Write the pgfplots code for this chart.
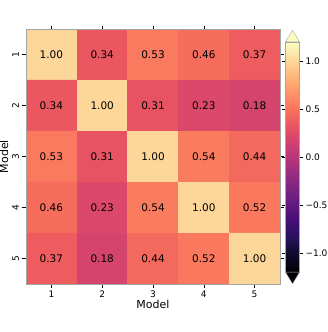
\documentclass[border=0pt]{standalone}
\usepackage{fontspec}
\setmainfont{DejaVu Sans}
\usepackage{pgfplots}
\pgfplotsset{compat=1.18}
\usetikzlibrary{calc}
\pgfplotsset{colormap={magma}{
rgb255=(0,0,4) rgb255=(9,7,32) rgb255=(20,14,54) rgb255=(40,17,93) rgb255=(59,15,112) rgb255=(80,18,123)
rgb255=(100,26,128) rgb255=(120,34,129) rgb255=(140,41,129) rgb255=(161,48,126) rgb255=(183,55,121)
rgb255=(203,63,115) rgb255=(222,73,104) rgb255=(238,90,96) rgb255=(247,112,92) rgb255=(252,135,97)
rgb255=(254,159,109) rgb255=(254,182,122) rgb255=(254,206,145) rgb255=(252,230,170) rgb255=(252,253,191)}}
\definecolor{magtop}{RGB}{252,253,191}
\definecolor{magbot}{RGB}{0,0,4}
\begin{document}
\begin{tikzpicture}
\path[use as bounding box] (0,0) rectangle (327pt,332pt);
\begin{axis}[
  at={(26pt,48pt)}, anchor=south west,
  scale only axis, width=254pt, height=255pt,
  xmin=0.5, xmax=5.5, ymin=0.5, ymax=5.5,
  y dir=reverse,
  xtick={1,2,3,4,5}, ytick={1,2,3,4,5},
  xticklabels={1,2,3,4,5}, yticklabels={1,2,3,4,5},
  yticklabel style={rotate=90, font=\fontsize{9}{10}\selectfont},
  xticklabel style={font=\fontsize{9}{10}\selectfont},
  tick align=outside, major tick length=3.5pt,
  tick style={black, line width=0.6pt},
  axis line style={gray!70},
  axis on top,
  xlabel={Model}, ylabel={Model},
  label style={font=\fontsize{11}{13}\selectfont},
  xlabel style={yshift=5pt},
  ylabel style={yshift=-3pt},
  colormap name=magma,
  point meta min=-1.2, point meta max=1.2,
  colorbar,
  colorbar style={
    anchor=south west,
    at={($(parent axis.south east)+(5pt,11.8pt)$)},
    xshift=-8pt,
    width=14pt, height=230.4pt,
    ytick={-1,-0.5,0,0.5,1},
    yticklabels={−1.0,−0.5,0.0,0.5,1.0},
    yticklabel style={font=\fontsize{9}{10}\selectfont, xshift=-1pt},
    tick align=outside, major tick length=3.5pt,
    tick style={black, line width=0.6pt},
    axis line style={gray!70},
    extra description/.code={
      \filldraw[fill=magtop, draw=gray!70] (0,1) -- (0.5,1.05) -- (1,1) -- cycle;
      \filldraw[fill=magbot, draw=gray!70] (0,0) -- (0.5,-0.05) -- (1,0) -- cycle;
    },
  },
]
\addplot[matrix plot*, mesh/cols=5, point meta=explicit,
  nodes near coords, nodes near coords align=center,
  every node near coord/.append style={font=\fontsize{10.5}{12}\selectfont, text=black,
    /pgf/number format/.cd, fixed, fixed zerofill, precision=2, assume math mode=true}]
table[meta=c] {
x y c
1 1 1.00
2 1 0.34
3 1 0.53
4 1 0.46
5 1 0.37
1 2 0.34
2 2 1.00
3 2 0.31
4 2 0.23
5 2 0.18
1 3 0.53
2 3 0.31
3 3 1.00
4 3 0.54
5 3 0.44
1 4 0.46
2 4 0.23
3 4 0.54
4 4 1.00
5 4 0.52
1 5 0.37
2 5 0.18
3 5 0.44
4 5 0.52
5 5 1.00
};
\end{axis}
\end{tikzpicture}
\end{document}
